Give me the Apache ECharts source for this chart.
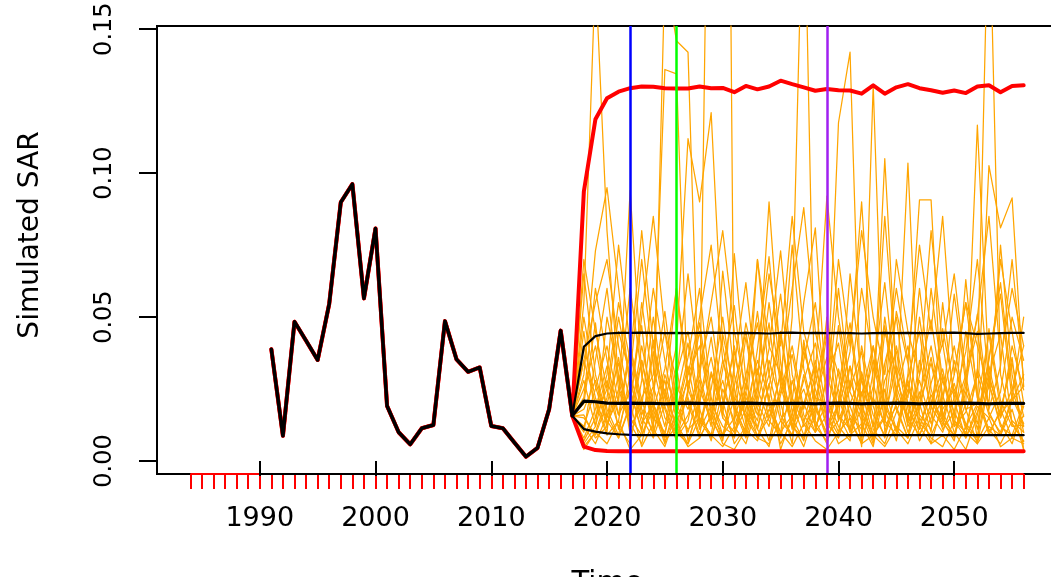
<!DOCTYPE html>
<html>
<head>
<meta charset="utf-8">
<script src="https://cdn.jsdelivr.net/npm/echarts@6/dist/echarts.min.js"></script>
<style>
html,body{margin:0;padding:0;background:#fff;}
#chart{width:1051px;height:577px;}
</style>
</head>
<body>
<div id="chart"></div>
<script>
// ---------------- data ----------------
const histYears = [1991,1992,1993,1994,1995,1996,1997,1998,1999,2000,2001,2002,2003,2004,2005,2006,2007,2008,2009,2010,2011,2012,2013,2014,2015,2016,2017];
const hist = [0.0388,0.0088,0.0484,0.0418,0.0351,0.0546,0.0899,0.0962,0.0565,0.0808,0.0191,0.0100,0.0058,0.0114,0.0125,0.0486,0.0353,0.0310,0.0325,0.0122,0.0114,0.0064,0.0015,0.0046,0.0180,0.0453,0.0157];
const projYears = [2018,2019,2020,2021,2022,2023,2024,2025,2026,2027,2028,2029,2030,2031,2032,2033,2034,2035,2036,2037,2038,2039,2040,2041,2042,2043,2044,2045,2046,2047,2048,2049,2050,2051,2052,2053,2054,2055,2056];

const redUpper = [0.0936,0.1187,0.1260,0.1283,0.1295,0.1301,0.1300,0.1295,0.1294,0.1294,0.1301,0.1295,0.1296,0.1281,0.1303,0.1291,0.1301,0.1321,0.1309,0.1298,0.1286,0.1292,0.1288,0.1287,0.1276,0.1305,0.1276,0.1298,0.1309,0.1295,0.1288,0.1279,0.1287,0.1278,0.1301,0.1305,0.1281,0.1303,0.1305];
const redLower = [0.0050,0.0038,0.0035,0.0034,0.0034,0.0034,0.0034,0.0034,0.0034,0.0034,0.0034,0.0034,0.0034,0.0034,0.0034,0.0034,0.0034,0.0034,0.0034,0.0034,0.0034,0.0034,0.0034,0.0034,0.0034,0.0034,0.0034,0.0034,0.0034,0.0034,0.0034,0.0034,0.0034,0.0034,0.0034,0.0034,0.0034,0.0034,0.0034];
const blackUpper = [0.0397,0.0434,0.0443,0.0445,0.0445,0.0446,0.0445,0.0444,0.0445,0.0444,0.0445,0.0446,0.0445,0.0444,0.0445,0.0444,0.0443,0.0445,0.0446,0.0444,0.0445,0.0444,0.0445,0.0444,0.0443,0.0444,0.0445,0.0444,0.0445,0.0444,0.0444,0.0445,0.0446,0.0444,0.0442,0.0443,0.0444,0.0445,0.0445];
const blackMedian = [0.0208,0.0206,0.0201,0.0200,0.0201,0.0200,0.0200,0.0199,0.0200,0.0201,0.0200,0.0199,0.0200,0.0200,0.0201,0.0200,0.0199,0.0200,0.0200,0.0200,0.0199,0.0200,0.0201,0.0200,0.0199,0.0200,0.0200,0.0201,0.0200,0.0199,0.0200,0.0200,0.0200,0.0201,0.0200,0.0199,0.0200,0.0200,0.0200];
const blackLower = [0.0111,0.0102,0.0096,0.0093,0.0091,0.0090,0.0090,0.0090,0.0090,0.0090,0.0090,0.0090,0.0090,0.0090,0.0090,0.0090,0.0090,0.0090,0.0090,0.0090,0.0090,0.0090,0.0090,0.0090,0.0090,0.0090,0.0090,0.0090,0.0090,0.0090,0.0090,0.0090,0.0090,0.0090,0.0090,0.0090,0.0090,0.0090,0.0090];

// simulated trajectories (2018-2056)
const sim01 = [0.055,0.170,0.080,0.028,0.012,0.035,0.018,0.006,0.022,0.041,0.015,0.009,0.032,0.054,0.020,0.011,0.027,0.004,0.016,0.038,0.025,0.012,0.047,0.019,0.008,0.031,0.062,0.024,0.010,0.018,0.036,0.014,0.007,0.029,0.045,0.017,0.009,0.021,0.026];
const sim02 = [0.030,0.073,0.095,0.060,0.025,0.010,0.042,0.019,0.008,0.014,0.033,0.050,0.021,0.006,0.012,0.039,0.071,0.028,0.013,0.005,0.018,0.044,0.030,0.011,0.024,0.009,0.016,0.052,0.034,0.012,0.006,0.020,0.058,0.027,0.011,0.033,0.015,0.040,0.0247];
const sim03 = [0.012,0.025,0.040,0.020,0.094,0.030,0.011,0.005,0.017,0.036,0.060,0.022,0.009,0.015,0.043,0.018,0.007,0.026,0.075,0.032,0.014,0.006,0.021,0.038,0.090,0.027,0.012,0.019,0.008,0.030,0.049,0.023,0.010,0.004,0.016,0.035,0.062,0.025,0.012];
const sim04 = [0.008,0.018,0.033,0.011,0.026,0.047,0.010,0.170,0.146,0.142,0.012,0.030,0.017,0.008,0.024,0.052,0.019,0.006,0.014,0.028,0.041,0.016,0.009,0.033,0.020,0.007,0.045,0.030,0.013,0.024,0.010,0.055,0.021,0.008,0.017,0.030,0.044,0.013,0.0067];
const sim05 = [0.020,0.048,0.015,0.036,0.009,0.022,0.030,0.136,0.1345,0.020,0.008,0.016,0.044,0.025,0.011,0.070,0.030,0.014,0.021,0.055,0.081,0.020,0.010,0.028,0.016,0.006,0.034,0.050,0.018,0.011,0.027,0.041,0.015,0.063,0.022,0.009,0.018,0.034,0.0154];
const sim06 = [0.040,0.022,0.010,0.045,0.030,0.015,0.008,0.020,0.040,0.112,0.090,0.121,0.040,0.018,0.010,0.025,0.048,0.016,0.009,0.030,0.012,0.020,0.060,0.024,0.014,0.040,0.018,0.007,0.029,0.045,0.016,0.010,0.022,0.038,0.070,0.027,0.013,0.006,0.019];
const sim07 = [0.006,0.012,0.028,0.016,0.040,0.021,0.009,0.030,0.018,0.011,0.015,0.300,0.500,0.010,0.022,0.014,0.035,0.020,0.006,0.042,0.018,0.010,0.026,0.048,0.019,0.009,0.015,0.033,0.022,0.060,0.025,0.011,0.017,0.030,0.008,0.046,0.021,0.012,0.0125];
const sim08 = [0.065,0.030,0.014,0.008,0.019,0.055,0.026,0.012,0.033,0.007,0.020,0.043,0.015,0.072,0.028,0.011,0.005,0.023,0.037,0.016,0.010,0.029,0.041,0.014,0.006,0.022,0.085,0.031,0.012,0.020,0.034,0.015,0.009,0.026,0.051,0.018,0.033,0.070,0.028];
const sim09 = [0.015,0.009,0.020,0.034,0.013,0.006,0.024,0.045,0.017,0.028,0.011,0.019,0.007,0.033,0.062,0.025,0.014,0.009,0.050,0.210,0.010,0.030,0.016,0.008,0.023,0.040,0.019,0.011,0.027,0.009,0.018,0.046,0.024,0.013,0.008,0.029,0.016,0.022,0.050];
const sim10 = [0.025,0.040,0.018,0.009,0.030,0.070,0.033,0.015,0.010,0.024,0.045,0.016,0.028,0.012,0.006,0.020,0.039,0.073,0.030,0.014,0.022,0.020,0.1175,0.142,0.010,0.026,0.047,0.018,0.008,0.035,0.019,0.012,0.030,0.055,0.024,0.010,0.017,0.036,0.0038];
const sim11 = [0.010,0.035,0.060,0.025,0.012,0.019,0.050,0.022,0.009,0.016,0.028,0.012,0.066,0.030,0.015,0.008,0.021,0.044,0.017,0.025,0.012,0.007,0.019,0.033,0.005,0.1306,0.010,0.024,0.040,0.016,0.011,0.028,0.017,0.009,0.032,0.020,0.075,0.030,0.010];
const sim12 = [0.045,0.015,0.025,0.012,0.006,0.028,0.060,0.035,0.014,0.022,0.009,0.031,0.018,0.040,0.013,0.026,0.090,0.034,0.012,0.008,0.027,0.045,0.016,0.011,0.028,0.020,0.105,0.030,0.014,0.022,0.040,0.017,0.008,0.024,0.013,0.036,0.058,0.021,0.030];
const sim13 = [0.004,0.010,0.022,0.050,0.028,0.013,0.020,0.009,0.030,0.045,0.018,0.007,0.025,0.014,0.030,0.048,0.020,0.010,0.016,0.035,0.055,0.022,0.012,0.007,0.031,0.016,0.009,0.020,0.1035,0.012,0.023,0.014,0.035,0.018,0.006,0.027,0.012,0.009,0.020];
const sim14 = [0.018,0.028,0.013,0.022,0.060,0.030,0.014,0.025,0.011,0.030,0.040,0.017,0.009,0.026,0.045,0.020,0.012,0.031,0.015,0.007,0.022,0.036,0.014,0.065,0.028,0.012,0.021,0.010,0.030,0.0907,0.0907,0.015,0.027,0.012,0.020,0.044,0.018,0.008,0.016];
const sim15 = [0.035,0.020,0.009,0.014,0.038,0.016,0.026,0.052,0.020,0.010,0.025,0.014,0.035,0.018,0.008,0.022,0.055,0.026,0.012,0.020,0.033,0.015,0.025,0.010,0.040,0.019,0.008,0.026,0.014,0.050,0.021,0.013,0.009,0.020,0.1167,0.030,0.015,0.025,0.040];
const sim16 = [0.022,0.060,0.035,0.016,0.024,0.011,0.038,0.018,0.007,0.025,0.048,0.020,0.012,0.009,0.027,0.016,0.030,0.058,0.022,0.013,0.030,0.011,0.020,0.045,0.017,0.008,0.028,0.038,0.015,0.009,0.020,0.032,0.012,0.017,0.030,0.200,0.030,0.013,0.007];
const sim17 = [0.050,0.026,0.012,0.030,0.015,0.040,0.020,0.008,0.016,0.033,0.013,0.025,0.050,0.020,0.009,0.032,0.015,0.024,0.040,0.018,0.035,0.013,0.008,0.020,0.030,0.012,0.050,0.022,0.016,0.028,0.013,0.022,0.040,0.018,0.020,0.1026,0.081,0.0914,0.026];
const sim18 = [0.007,0.015,0.030,0.075,0.040,0.018,0.010,0.023,0.013,0.006,0.021,0.036,0.015,0.010,0.018,0.035,0.022,0.008,0.028,0.012,0.019,0.008,0.032,0.016,0.011,0.022,0.013,0.040,0.020,0.007,0.015,0.030,0.012,0.045,0.022,0.011,0.006,0.014,0.010];
const sim19 = [0.028,0.012,0.050,0.030,0.015,0.009,0.018,0.032,0.060,0.025,0.014,0.008,0.020,0.038,0.017,0.012,0.026,0.045,0.020,0.009,0.015,0.050,0.022,0.010,0.018,0.035,0.014,0.009,0.025,0.018,0.060,0.028,0.014,0.008,0.019,0.015,0.024,0.050,0.035];
const sim20 = [0.016,0.008,0.012,0.025,0.018,0.035,0.015,0.010,0.026,0.018,0.030,0.014,0.008,0.022,0.016,0.009,0.015,0.030,0.011,0.040,0.020,0.009,0.014,0.025,0.038,0.011,0.006,0.017,0.028,0.013,0.009,0.018,0.025,0.011,0.030,0.016,0.010,0.022,0.013];
const sim21 = [0.005,0.010,0.006,0.014,0.004,0.009,0.020,0.007,0.012,0.005,0.008,0.016,0.006,0.004,0.011,0.007,0.018,0.010,0.005,0.013,0.007,0.004,0.010,0.015,0.006,0.009,0.005,0.012,0.008,0.020,0.006,0.009,0.004,0.012,0.007,0.015,0.005,0.008,0.006];
const sim22 = [0.012,0.006,0.016,0.008,0.020,0.005,0.013,0.028,0.010,0.006,0.015,0.009,0.005,0.012,0.024,0.008,0.006,0.014,0.009,0.020,0.010,0.016,0.006,0.009,0.013,0.005,0.025,0.011,0.006,0.015,0.008,0.005,0.014,0.010,0.006,0.012,0.009,0.018,0.004];
const sim23 = [0.070,0.045,0.025,0.055,0.035,0.080,0.040,0.022,0.060,0.030,0.050,0.075,0.035,0.020,0.048,0.030,0.065,0.040,0.085,0.045,0.030,0.092,0.050,0.025,0.060,0.035,0.020,0.070,0.045,0.030,0.080,0.040,0.065,0.030,0.050,0.085,0.035,0.060,0.040];
const sim24 = [0.035,0.055,0.070,0.040,0.020,0.050,0.085,0.045,0.028,0.065,0.030,0.055,0.080,0.045,0.025,0.070,0.040,0.030,0.060,0.088,0.045,0.025,0.070,0.040,0.080,0.050,0.030,0.060,0.035,0.075,0.045,0.085,0.030,0.055,0.040,0.025,0.070,0.045,0.020];
const sims = [sim01,sim02,sim03,sim04,sim05,sim06,sim07,sim08,sim09,sim10,sim11,sim12,sim13,sim14,sim15,sim16,sim17,sim18,sim19,sim20,sim21,sim22,sim23,sim24];

const majorTicks = [1990,2000,2010,2020,2030,2040,2050];
const minorTicks = [1984,1985,1986,1987,1988,1989,1990,1991,1992,1993,1994,1995,1996,1997,1998,1999,2000,2001,2002,2003,2004,2005,2006,2007,2008,2009,2010,2011,2012,2013,2014,2015,2016,2017,2018,2019,2020,2021,2022,2023,2024,2025,2026,2027,2028,2029,2030,2031,2032,2033,2034,2035,2036,2037,2038,2039,2040,2041,2042,2043,2044,2045,2046,2047,2048,2049,2050,2051,2052,2053,2054,2055,2056];
const yTicks = [0, 0.05, 0.10, 0.15];
const vLineYears = [2022, 2026, 2039];
const vLineColors = ['#0000FF', '#00FF00', '#A020F0'];

// ---------------- chart ----------------
const X_MIN = 1981.12, X_MAX = 2058.88;
const Y_MIN = -0.0045, Y_MAX = 0.1511;
const FONT = 'DejaVu Sans';

const lastYear = histYears[histYears.length - 1];
const lastVal = hist[hist.length - 1];
function projData(vals) {
  const d = [[lastYear, lastVal]];
  for (let i = 0; i < vals.length; i++) d.push([projYears[i], vals[i]]);
  return d;
}
function fullData(vals) {
  const d = [];
  for (let i = 0; i < hist.length; i++) d.push([histYears[i], hist[i]]);
  for (let i = 0; i < vals.length; i++) d.push([projYears[i], vals[i]]);
  return d;
}
function lineSeries(data, color, width, z) {
  return {
    type: 'line', data: data, symbol: 'none', showSymbol: false, silent: true,
    lineStyle: { color: color, width: width, join: 'round', cap: 'round' },
    z: z, animation: false
  };
}

const series = [];
sims.forEach(s => series.push(lineSeries(projData(s), '#FFA500', 1.25, 2)));
series.push(lineSeries(fullData(redUpper), '#FF0000', 4, 3));
series.push(lineSeries(fullData(redLower), '#FF0000', 4, 3));
series.push(lineSeries(projData(blackUpper), '#000000', 2.2, 4));
series.push(lineSeries(projData(blackLower), '#000000', 2.2, 4));
series.push(lineSeries(projData(blackMedian), '#000000', 3.2, 4));
series.push(lineSeries(histYears.map((y, i) => [y, hist[i]]), '#000000', 3.5, 4));
// vertical reference lines
series.push({
  type: 'line', data: [], silent: true, z: 5,
  markLine: {
    silent: true, symbol: 'none', animation: false, label: { show: false },
    data: vLineYears.map((y, i) => ({ xAxis: y, lineStyle: { color: vLineColors[i], width: 2.5, type: 'solid' } }))
  }
});
// axis line segments (R style: red minor-tick axis, black major-tick axis)
const axRed = lineSeries([[minorTicks[0], Y_MIN], [minorTicks[minorTicks.length - 1], Y_MIN]], '#FF0000', 2, 6);
axRed.clip = false; axRed.lineStyle.cap = 'butt';
const axBlack = lineSeries([[majorTicks[0], Y_MIN], [majorTicks[majorTicks.length - 1], Y_MIN]], '#000000', 2, 7);
axBlack.clip = false; axBlack.lineStyle.cap = 'butt';
series.push(axRed, axBlack);

const chart = echarts.init(document.getElementById('chart'), null, { renderer: 'canvas' });
chart.setOption({
  animation: false,
  backgroundColor: '#ffffff',
  grid: { left: 157, top: 26, width: 900, height: 448, show: true, borderColor: '#000', borderWidth: 2,
    backgroundColor: 'transparent', containLabel: false, outerBoundsMode: 'none' },
  xAxis: [
    {
      type: 'value', min: X_MIN, max: X_MAX, position: 'bottom', z: 8,
      axisLine: { show: false }, splitLine: { show: false },
      axisTick: { show: true, customValues: majorTicks, length: 15, lineStyle: { color: '#000', width: 2 } },
      axisLabel: { show: true, customValues: majorTicks, fontSize: 27, fontFamily: FONT, color: '#000', margin: 31,
        formatter: v => String(v) },
      name: 'Time', nameLocation: 'middle', nameGap: 95,
      nameTextStyle: { fontSize: 29, fontFamily: FONT, color: '#000' }
    },
    {
      type: 'value', min: X_MIN, max: X_MAX, position: 'bottom', z: 6,
      axisLine: { show: false }, splitLine: { show: false },
      axisTick: { show: true, customValues: minorTicks, length: 15, lineStyle: { color: '#FF0000', width: 2 } },
      axisLabel: { show: false }
    }
  ],
  yAxis: {
    type: 'value', min: Y_MIN, max: Y_MAX,
    axisLine: { show: false }, splitLine: { show: false },
    axisTick: { show: true, customValues: yTicks, length: 18, lineStyle: { color: '#000', width: 2 } },
    axisLabel: { show: true, customValues: yTicks, rotate: 90, fontSize: 24, fontFamily: FONT, color: '#000', margin: 40,
      formatter: v => v.toFixed(2) },
    name: 'Simulated SAR', nameLocation: 'middle', nameGap: 112, nameRotate: 90,
    nameTextStyle: { fontSize: 28, fontFamily: FONT, color: '#000', padding: [0, 0, 0, 30] }
  },
  series: series
});
</script>
</body>
</html>
